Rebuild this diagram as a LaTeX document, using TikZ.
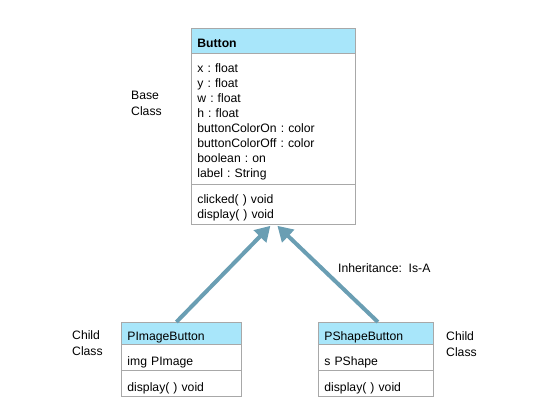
\documentclass[tikz,border=0pt]{standalone}
\usepackage{fontspec}
\setmainfont{Liberation Sans}
\usetikzlibrary{arrows.meta,calc}
\definecolor{hdr}{HTML}{A8E6FA}
\definecolor{bord}{HTML}{A8A8A8}
\definecolor{arr}{HTML}{6A9EB3}
\frenchspacing
\begin{document}
\begin{tikzpicture}[x=1pt,y=-1pt,
  box/.style={draw=bord, line width=0.8pt, anchor=north west, align=left, inner xsep=6pt, inner ysep=0pt, font=\fontsize{12.2}{15}\selectfont},
  head/.style={box, fill=hdr},
  lbl/.style={anchor=west, align=left, inner sep=0pt, font=\fontsize{12.2}{16}\selectfont},
  inh/.style={draw=arr, line width=4pt, -{Triangle[length=15pt,width=17pt]}}]
\useasboundingbox (0,0) rectangle (542,412);
% Base class
\node[head, text width=152pt, minimum height=25pt, text height=19.5pt, text depth=5.5pt] (btnhead) at (191,28) {\textbf{Button}};
\node[box, text width=152pt, minimum height=131pt, text height=19pt, text depth=112pt] (btnattr) at (191,53) {x : float\\y : float\\w : float\\h : float\\buttonColorOn : color\\buttonColorOff : color\\boolean : on\\label : String};
\node[box, text width=152pt, minimum height=40pt, text height=19.3pt, text depth=20.7pt] (btnops) at (191,184) {clicked( ) void\\display( ) void};
% Child PImageButton
\node[head, text width=108pt, minimum height=22pt, text height=18.3pt, text depth=3.7pt] (pimghead) at (121,322) {PImageButton};
\node[box, text width=108pt, minimum height=26pt, text height=21.3pt, text depth=4.7pt] (pimgattr) at (121,344) {img PImage};
\node[box, text width=108pt, minimum height=26pt, text height=21.3pt, text depth=4.7pt] (pimgops) at (121,370) {display( ) void};
% Child PShapeButton
\node[head, text width=103pt, minimum height=22pt, text height=18.3pt, text depth=3.7pt] (pshphead) at (318,322) {PShapeButton};
\node[box, text width=103pt, minimum height=26pt, text height=21.3pt, text depth=4.7pt] (pshpattr) at (318,344) {s PShape};
\node[box, text width=103pt, minimum height=26pt, text height=21.3pt, text depth=4.7pt] (pshpops) at (318,370) {display( ) void};
% Labels
\node[lbl] (baselbl) at (131,103) {Base\\Class};
\node[lbl] (childl) at (72,343) {Child\\Class};
\node[lbl] (childr) at (446,344) {Child\\Class};
\node[lbl] (inhlbl) at (338,268) {Inheritance:\ \ Is-A};
% Arrows
\coordinate (tipl) at ($(btnops.south)+(-3,1)$);
\coordinate (tipr) at ($(btnops.south)+(4,1)$);
\draw[inh] ($(pimghead.north)+(-5,0)$) -- (tipl);
\draw[inh] ($(pshphead.north)+(2,0)$) -- (tipr);
\end{tikzpicture}
\end{document}
